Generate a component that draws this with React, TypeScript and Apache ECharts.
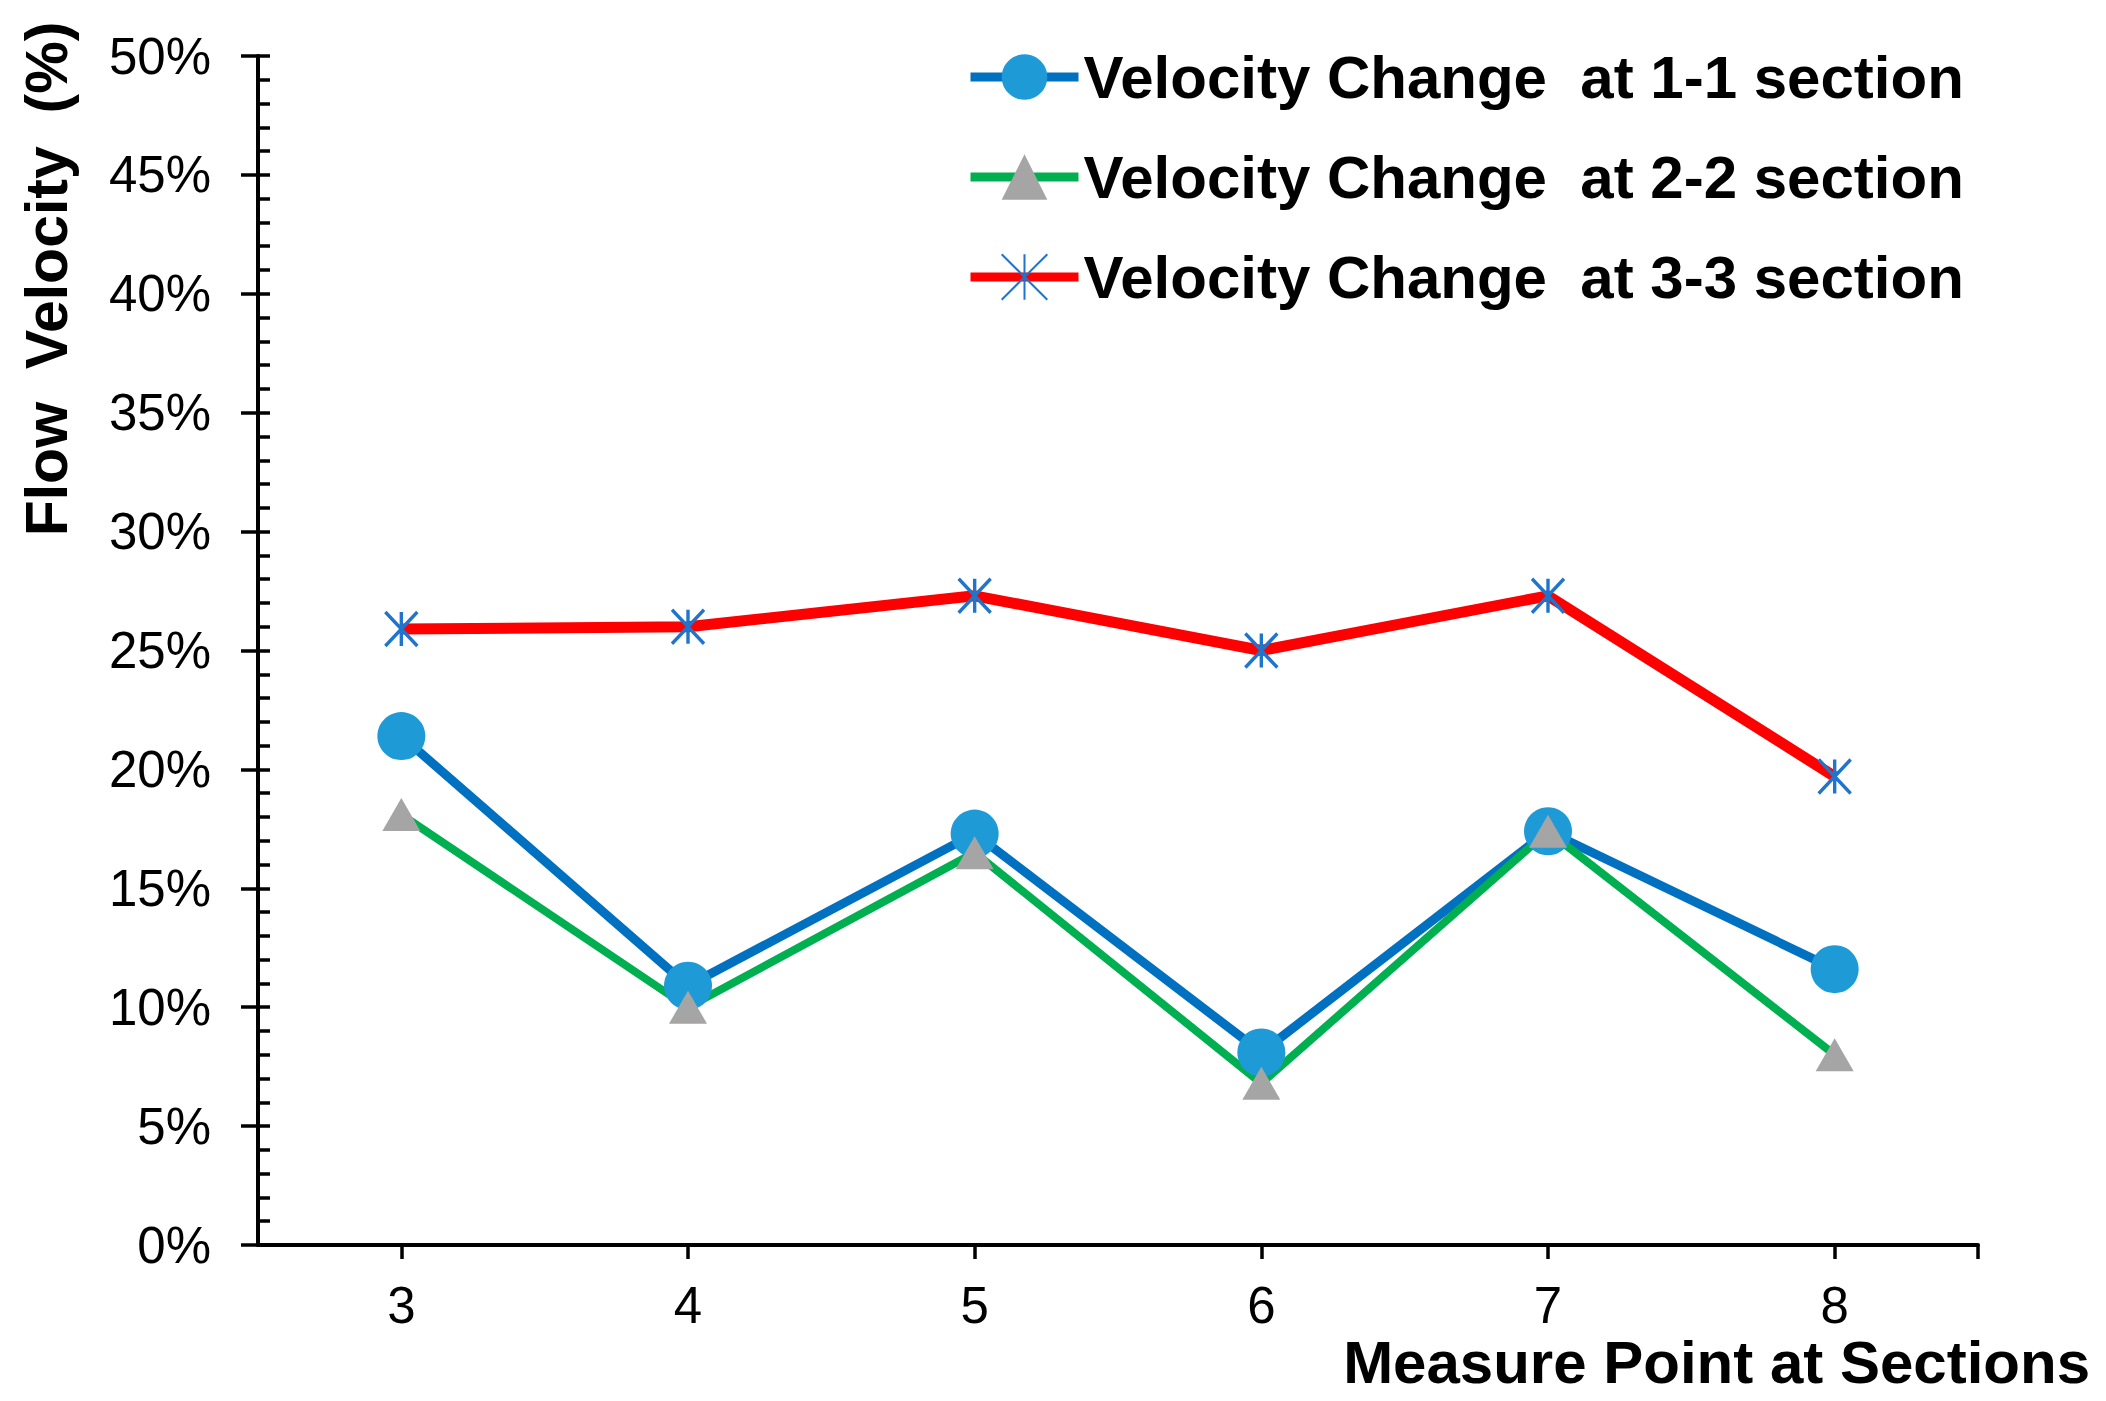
import React, { useEffect, useRef } from "react";
import * as echarts from "echarts";

const categories = [3, 4, 5, 6, 7, 8];
const section11 = [21.4, 10.9, 17.3, 8.1, 17.4, 11.6];
const section22 = [18.1, 10.0, 16.5, 6.8, 17.4, 8.0];
const section33 = [25.9, 26.0, 27.3, 25.0, 27.3, 19.7];
const seriesNames = [
  "Velocity Change  at 1-1 section",
  "Velocity Change  at 2-2 section",
  "Velocity Change  at 3-3 section",
];
const xTickValues = [3, 4, 5, 6, 7, 8, 8.5];
const yTitle = "Flow  Velocity  (%)";
const xTitle = "Measure Point at Sections";

const FONT = "'Liberation Sans', Arial, sans-serif";
const ASTERISK = "path://M0,0L34,36M34,0L0,36M17,0L17,36";

function pairs(values: number[]) {
  return categories.map((c, i) => [c, values[i]]);
}

export default function App() {
  const ref = useRef<HTMLDivElement>(null);
  useEffect(() => {
    if (!ref.current) return;
    const chart = echarts.init(ref.current, null, { renderer: "svg" });
    const tickStyle = { color: "#000", width: 3.5 };
    chart.setOption({
      animation: false,
      backgroundColor: "#fff",
      grid: { left: 258, right: 128, top: 56, bottom: 156, containLabel: false },
      legend: {
        orient: "vertical",
        left: 966,
        top: 47,
        padding: 0,
        itemWidth: 108,
        itemHeight: 57,
        itemGap: 40,
        data: seriesNames,
        lineStyle: { width: 9 },
        textStyle: {
          fontFamily: FONT,
          fontSize: 60,
          fontWeight: "bold",
          color: "#000",
          lineHeight: 60,
        },
      },
      title: {
        text: xTitle,
        right: 16,
        top: 1337,
        padding: 0,
        textStyle: {
          fontFamily: FONT,
          fontSize: 60,
          fontWeight: "bold",
          color: "#000",
          lineHeight: 50,
        },
      },
      graphic: [
        {
          type: "text",
          x: 47,
          y: 279,
          rotation: Math.PI / 2,
          style: {
            text: yTitle,
            font: `bold 59px ${FONT}`,
            fill: "#000",
            align: "center",
            verticalAlign: "middle",
          },
        },
      ],
      xAxis: {
        type: "value",
        min: 2.5,
        max: 8.5,
        axisLine: { show: true, lineStyle: { color: "#000", width: 4 } },
        axisTick: { show: true, customValues: xTickValues, length: 14, lineStyle: tickStyle },
        axisLabel: {
          customValues: categories,
          margin: 38,
          fontFamily: FONT,
          fontSize: 51,
          lineHeight: 44,
          color: "#000",
        },
        splitLine: { show: false },
      },
      yAxis: [
        {
          type: "value",
          min: 0,
          max: 50,
          interval: 5,
          position: "left",
          axisLine: { show: true, lineStyle: { color: "#000", width: 4 } },
          axisTick: { show: true, inside: false, length: 17, lineStyle: tickStyle },
          axisLabel: {
            formatter: "{value}%",
            margin: 47,
            fontFamily: FONT,
            fontSize: 51,
            color: "#000",
          },
          splitLine: { show: false },
        },
        {
          type: "value",
          min: 0,
          max: 50,
          interval: 5,
          position: "left",
          axisLine: { show: false },
          axisTick: { show: true, inside: true, length: 12, lineStyle: tickStyle },
          minorTick: { show: true, splitNumber: 5, length: 12, lineStyle: tickStyle },
          axisLabel: { show: false },
          splitLine: { show: false },
        },
      ],
      series: [
        {
          name: seriesNames[0],
          type: "line",
          data: pairs(section11),
          symbol: "circle",
          symbolSize: 48,
          lineStyle: { color: "#0070C0", width: 9 },
          itemStyle: { color: "#1E9BD7" },
        },
        {
          name: seriesNames[1],
          type: "line",
          data: pairs(section22),
          symbol: "triangle",
          symbolSize: [38, 33],
          lineStyle: { color: "#00B050", width: 8 },
          itemStyle: { color: "#A5A5A5" },
        },
        {
          name: seriesNames[2],
          type: "line",
          data: pairs(section33),
          symbol: ASTERISK,
          symbolSize: [32, 34],
          lineStyle: { color: "#FF0000", width: 11 },
          itemStyle: { color: "transparent", borderColor: "#1F74CC", borderWidth: 3.5 },
        },
      ],
    });
    return () => chart.dispose();
  }, []);
  return (
    <div
      ref={ref}
      style={{ position: "fixed", left: 0, top: 0, width: 2106, height: 1401, background: "#fff" }}
    />
  );
}
